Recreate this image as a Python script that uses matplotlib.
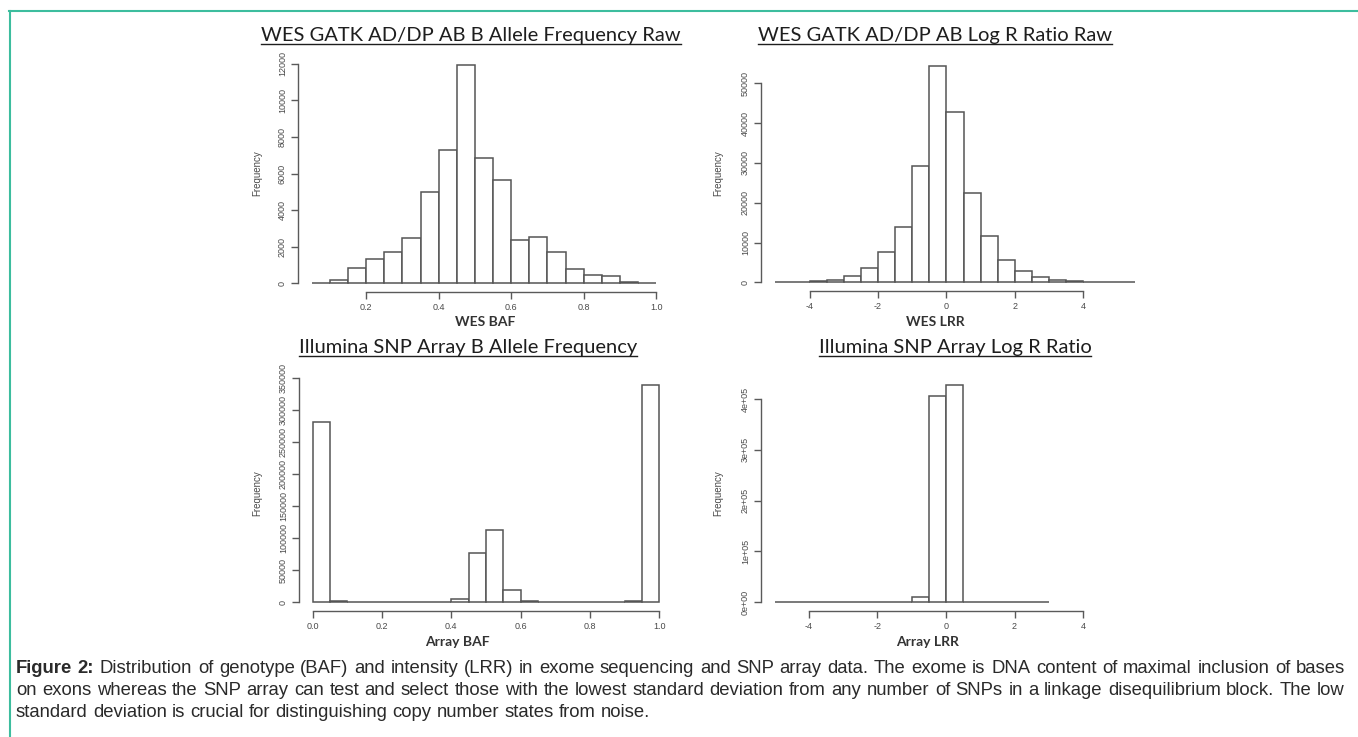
"""
Figure 2 - BAF / LRR histograms (WES vs Illumina SNP array)
"""

import numpy as np
import matplotlib
matplotlib.use('Agg')
import matplotlib.pyplot as plt
from matplotlib.lines import Line2D

W, H = 1358, 737

# ============================
# data (counts)
# ============================
wes_baf_edges = [0.05, 0.10, 0.15, 0.20, 0.25, 0.30, 0.35, 0.40, 0.45, 0.50,
                 0.55, 0.60, 0.65, 0.70, 0.75, 0.80, 0.85, 0.90, 0.95, 1.00]
wes_baf_counts = [0, 180, 830, 1300, 1700, 2480, 5000, 7300, 11950, 6830,
                  5650, 2340, 2520, 1720, 800, 440, 400, 80, 20]

wes_lrr_edges = [-5.0, -4.5, -4.0, -3.5, -3.0, -2.5, -2.0, -1.5, -1.0, -0.5, 0.0,
                 0.5, 1.0, 1.5, 2.0, 2.5, 3.0, 3.5, 4.0, 4.5, 5.0, 5.5]
wes_lrr_counts = [0, 200, 330, 670, 1500, 3590, 7600, 14020, 29200, 54420,
                  42740, 22540, 11690, 5590, 2750, 1250, 670, 330, 160, 80, 50]

arr_baf_edges = [0.00, 0.05, 0.10, 0.15, 0.20, 0.25, 0.30, 0.35, 0.40, 0.45, 0.50,
                 0.55, 0.60, 0.65, 0.70, 0.75, 0.80, 0.85, 0.90, 0.95, 1.00]
arr_baf_counts = [281000, 2600, 1000, 0, 0, 0, 0, 0, 4700, 77600,
                  112500, 19300, 2600, 0, 0, 0, 0, 0, 1600, 340000]

arr_lrr_edges = [-5.0, -4.5, -4.0, -3.5, -3.0, -2.5, -2.0, -1.5, -1.0, -0.5,
                 0.0, 0.5, 1.0, 1.5, 2.0, 2.5, 3.0]
arr_lrr_counts = [0, 0, 0, 0, 0, 0, 0, 300, 11000, 405000,
                  428000, 1500, 0, 0, 0, 0]

baf_ticks = [0.2, 0.4, 0.6, 0.8, 1.0]
baf_ticks_arr = [0.0, 0.2, 0.4, 0.6, 0.8, 1.0]
lrr_ticks = [-4, -2, 0, 2, 4]

wes_baf_yticks = [0, 2000, 4000, 6000, 8000, 10000, 12000]
wes_lrr_yticks = [0, 10000, 20000, 30000, 40000, 50000]
arr_baf_yticks = [0, 50000, 100000, 150000, 200000, 250000, 300000, 350000]
arr_lrr_yticks = [0, 100000, 200000, 300000, 400000]
arr_lrr_ylabels = ['0e+00', '1e+05', '2e+05', '3e+05', '4e+05']

caption_line1 = ("Distribution of genotype (BAF) and intensity (LRR) in exome sequencing and SNP array "
                 "data. The exome is DNA content of maximal inclusion of bases")
caption_line2 = ("on exons whereas the SNP array can test and select those with the lowest standard "
                 "deviation from any number of SNPs in a linkage disequilibrium block. The low")
caption_line3 = "standard deviation is crucial for distinguishing copy number states from noise."

NARROW = ['Liberation Sans Narrow', 'Liberation Sans', 'DejaVu Sans']
TITLE_FONT = ['Lato', 'DejaVu Sans']
AX_COL = '#5a5a5a'

fig = plt.figure(figsize=(W / 100, H / 100), dpi=100)
fig.patch.set_facecolor('white')


def fx(x):
    return x / W


def fy(y):
    return 1 - y / H


def hist_panel(l, t, r, b, edges, counts, xlim, xticks, xlabels, yticks, ylabels=None):
    ax = fig.add_axes([fx(l), fy(b), (r - l) / W, (b - t) / H])
    ax.bar(edges[:-1], counts, width=np.diff(edges), align='edge',
           color='white', edgecolor='#555555', linewidth=1.1)
    ymax = max(counts)
    ax.set_xlim(*xlim)
    ax.set_ylim(-0.04 * ymax, 1.04 * ymax)
    ax.set_xticks(xticks)
    ax.set_xticklabels(xlabels)
    ax.set_yticks(yticks)
    if ylabels is None:
        ylabels = [str(v) for v in yticks]
    ax.set_yticklabels(ylabels, rotation=90, va='center')
    for s in ['top', 'right']:
        ax.spines[s].set_visible(False)
    ax.spines['left'].set_bounds(yticks[0], yticks[-1])
    ax.spines['bottom'].set_bounds(xticks[0], xticks[-1])
    for s in ['left', 'bottom']:
        ax.spines[s].set_color(AX_COL)
        ax.spines[s].set_linewidth(1.0)
    ax.tick_params(direction='out', length=5, width=1.0, color=AX_COL,
                   labelcolor='#4a4a4a', labelsize=6.5, pad=3)
    for lab in ax.get_xticklabels() + ax.get_yticklabels():
        lab.set_family(NARROW)
    ax.patch.set_alpha(0)
    return ax


hist_panel(298, 56, 670, 292, wes_baf_edges, wes_baf_counts, (0.012, 1.038),
           baf_ticks, [f'{v:.1f}' for v in baf_ticks], wes_baf_yticks)
hist_panel(761, 57, 1149, 291, wes_lrr_edges, wes_lrr_counts, (-5.42, 5.92),
           lrr_ticks, [str(v) for v in lrr_ticks], wes_lrr_yticks)
hist_panel(299, 376, 673, 611, arr_baf_edges, arr_baf_counts, (-0.04, 1.04),
           baf_ticks_arr, [f'{v:.1f}' for v in baf_ticks_arr], arr_baf_yticks)
hist_panel(761, 376, 1131, 611, arr_lrr_edges, arr_lrr_counts, (-5.4, 5.4),
           lrr_ticks, [str(v) for v in lrr_ticks], arr_lrr_yticks, arr_lrr_ylabels)

# y labels
for x, y in [(257, 173), (718, 173), (257, 493), (718, 493)]:
    fig.text(fx(x), fy(y), 'Frequency', rotation=90, ha='center', va='center',
             fontsize=7, color='#4a4a4a', family=NARROW)

fig.canvas.draw()
renderer = fig.canvas.get_renderer()

# titles with underline
titles = [
    ('WES GATK AD/DP AB B Allele Frequency Raw', 471, 41),
    ('WES GATK AD/DP AB Log R Ratio Raw', 935, 41),
    ('Illumina SNP Array B Allele Frequency', 468, 353),
    ('Illumina SNP Array Log R Ratio', 955, 353),
]
for txt, x, y in titles:
    t = fig.text(fx(x), fy(y), txt, ha='center', va='baseline', fontsize=14.5,
                 color='#1e1e1e', family=TITLE_FONT)
    bb = t.get_window_extent(renderer)
    fig.add_artist(Line2D([bb.x0 / W, bb.x1 / W], [fy(y + 3), fy(y + 3)],
                          transform=fig.transFigure, color='#1e1e1e', lw=1.0))

# x labels
for txt, x, y in [('WES BAF', 485, 322), ('WES LRR', 935, 322),
                  ('Array BAF', 457, 642), ('Array LRR', 928, 642)]:
    fig.text(fx(x), fy(y), txt, ha='center', va='center', fontsize=10,
             fontweight='bold', color='#333333', family=TITLE_FONT)

# teal frame
fig.add_artist(Line2D([fx(9), 1], [fy(11), fy(11)], transform=fig.transFigure,
                      color='#3dbd9e', lw=1.5))
fig.add_artist(Line2D([fx(9.5), fx(9.5)], [fy(11), 0], transform=fig.transFigure,
                      color='#3dbd9e', lw=1.5))

# caption (justified)
CAP_FONT = ['Liberation Sans', 'DejaVu Sans']
CAP_X0, CAP_X1 = 16, 1345


def text_w(s, fs, weight='normal'):
    t = fig.text(0, 0, s, fontsize=fs, family=CAP_FONT, fontweight=weight)
    w = t.get_window_extent(renderer).width
    t.remove()
    return w


# pick the font size so that the first line nearly fills the width
natural = text_w('Figure 2: ', 10, 'bold') + text_w(caption_line1, 10)
CAP_FS = 10 * (CAP_X1 - CAP_X0 - 4) / natural


def caption_line(words, y, justify=True):
    widths = [text_w(w, CAP_FS, wt) for w, wt in words]
    if justify and len(words) > 1:
        gap = (CAP_X1 - CAP_X0 - sum(widths)) / (len(words) - 1)
    else:
        gap = text_w('a b', CAP_FS) - text_w('ab', CAP_FS)
    x = CAP_X0
    for (w, wt), ww in zip(words, widths):
        fig.text(fx(x), fy(y), w, ha='left', va='baseline', fontsize=CAP_FS,
                 family=CAP_FONT, fontweight=wt, color='#2a2a2a')
        x += ww + gap


line1 = [('Figure', 'bold'), ('2:', 'bold')] + [(w, 'normal') for w in caption_line1.split()]
caption_line(line1, 673)
caption_line([(w, 'normal') for w in caption_line2.split()], 695)
caption_line([(w, 'normal') for w in caption_line3.split()], 717, justify=False)

plt.savefig('out.png', dpi=100)
plt.close()
